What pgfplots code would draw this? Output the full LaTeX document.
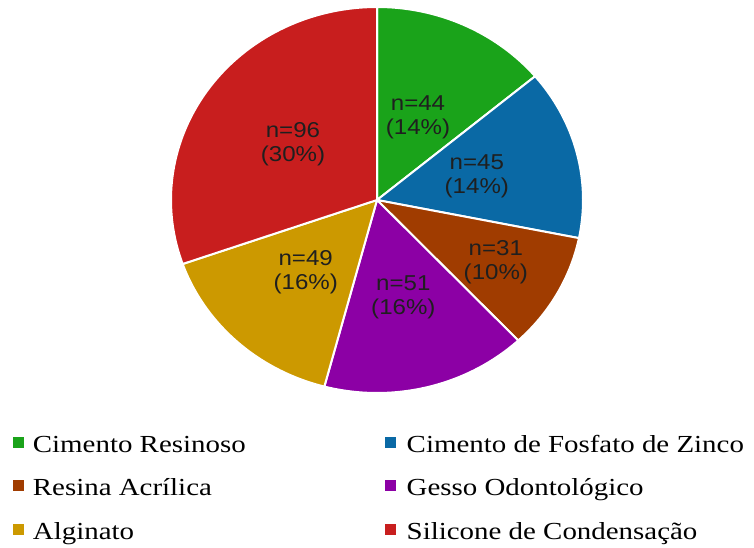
\documentclass[border=0pt]{standalone}
\usepackage{fontspec}
\setmainfont{Liberation Serif}[FakeStretch=1.18]
\newfontfamily\labelfont{Liberation Sans}[FakeStretch=1.12]
\usepackage{pgfplots}
\usepackage{pgfplotstable}
\pgfplotsset{compat=1.18}
\definecolor{cgreen}{RGB}{26,163,26}
\definecolor{cblue}{RGB}{10,105,165}
\definecolor{cbrown}{RGB}{160,60,0}
\definecolor{cpurple}{RGB}{140,0,165}
\definecolor{cgold}{RGB}{204,153,0}
\definecolor{cred}{RGB}{200,30,30}
% values (n): Cimento Resinoso 44, Fosfato de Zinco 45, Resina Acrilica 31,
% Gesso 51, Alginato 49, Silicone 96 ; total 316
\def\total{316}
% #1 cumulative before, #2 value, #3 colour
\newcommand\pieslice[3]{%
  \addplot[fill=#3, draw=white, line width=2pt, samples=90,
    domain={90-(#1+#2)*360/\total}:{90-(#1)*360/\total}]
    ({cos(x)},{sin(x)}) -- (axis cs:0,0) -- cycle;
}
\newcommand\pielabel[5]{% #1 cum, #2 value, #3 radius, #4 n text, #5 pct
  \node[align=center, text=black!88, font=\labelfont\fontsize{21.5}{24}\selectfont]
    at (axis cs:{#3*cos(90-(#1+#2/2)*360/\total)},{#3*sin(90-(#1+#2/2)*360/\total)})
    {n=#4\\(#5\%)};
}
\begin{document}
\begin{tikzpicture}
\path[use as bounding box] (0pt,0pt) rectangle (754pt,548pt);
\begin{axis}[
  hide axis, clip=false,
  x=206pt, y=193pt,
  xmin=-1, xmax=1, ymin=-1, ymax=1,
  anchor=origin, at={(377pt,348pt)},
  legend columns=2,
  legend cell align=left,
  legend image code/.code={\fill[#1, draw=none] (0pt,-5.5pt) rectangle (11pt,5.5pt);},
  legend style={
    at={(-0.3842,-0.0907)}, anchor=north west,
    draw=none, fill=none, inner sep=0pt,
    font=\fontsize{24.5}{28}\selectfont,
    row sep=15.5pt,
    nodes={inner sep=0pt, text height=24pt, text depth=4pt},
    /tikz/column 1/.style={column sep=9pt},
    /tikz/column 2/.style={column sep=139pt},
    /tikz/column 3/.style={column sep=11pt},
  },
]
\pieslice{0}{44}{cgreen}
\addlegendentry{Cimento Resinoso}
\pieslice{44}{45}{cblue}
\addlegendentry{Cimento de Fosfato de Zinco}
\pieslice{89}{31}{cbrown}
\addlegendentry{Resina Acrílica}
\pieslice{120}{51}{cpurple}
\addlegendentry{Gesso Odontológico}
\pieslice{171}{49}{cgold}
\addlegendentry{Alginato}
\pieslice{220}{96}{cred}
\addlegendentry{Silicone de Condensação}
\pielabel{0}{44}{0.47}{44}{14}
\pielabel{44}{45}{0.50}{45}{14}
\pielabel{89}{31}{0.66}{31}{10}
\pielabel{120}{51}{0.52}{51}{16}
\pielabel{171}{49}{0.51}{49}{16}
\pielabel{220}{96}{0.50}{96}{30}
\end{axis}
\end{tikzpicture}
\end{document}
